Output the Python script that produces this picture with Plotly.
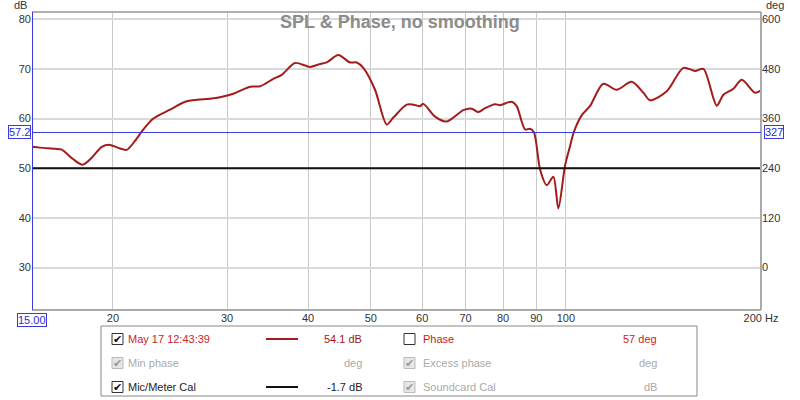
import plotly.graph_objects as go

# ---- data ----
freq_hz = [15.0, 15.43, 16.28, 16.67, 17.37, 17.96, 18.55, 19.22, 19.79, 20.38, 21.0, 21.63,
           22.28, 23.08, 24.49, 25.99, 28.24, 29.26, 30.68, 32.55, 33.73, 35.36, 36.43, 38.19,
           40.29, 41.74, 42.74, 44.54, 46.43, 47.55, 48.68, 50.75, 52.9, 54.16, 56.8, 58.15,
           59.55, 60.25, 62.81, 65.47, 69.45, 71.55, 73.25, 75.01, 77.73, 79.12, 82.48, 83.96,
           86.48, 88.03, 89.29, 91.21, 93.41, 95.63, 97.34, 99.68, 101.5, 102.8, 105.8, 108.9,
           114.2, 119.8, 126.3, 131.7, 134.8, 143.1, 151.8, 158.2, 163.0, 170.9, 175.0, 181.3,
           186.8, 195.8, 200.0]
spl_db = [54.35, 54.15, 53.9, 53.75, 51.8, 50.7, 52.1, 54.3, 54.7, 54.1, 53.7, 55.5,
          57.8, 60.0, 61.8, 63.5, 64.0, 64.3, 65.0, 66.4, 66.5, 68.0, 68.8, 71.2,
          70.4, 71.0, 71.3, 72.8, 71.3, 71.3, 70.2, 65.8, 58.8, 60.2, 62.8, 62.8,
          62.5, 62.96, 60.4, 59.4, 61.7, 62.0, 61.3, 62.1, 62.9, 62.7, 63.4, 62.5,
          57.8, 57.95, 57.2, 49.8, 46.6, 48.3, 41.9, 50.5, 54.5, 57.2, 60.7, 62.5,
          67.0, 65.8, 67.4, 65.2, 63.7, 65.5, 70.2, 69.6, 70.0, 62.6, 64.8, 66.0,
          67.8, 65.2, 65.7]
cal_freq_hz = [15.0, 200.0]
cal_db = [50.0, 50.0]
cursor_freq = 15.0
cursor_db = 57.2
cursor_deg = 327
x_ticks = [15, 20, 30, 40, 50, 60, 70, 80, 90, 100, 200]
x_ticktext = ["", "20", "30", "40", "50", "60", "70", "80", "90", "100", "200 Hz"]
db_ticks = [30, 40, 50, 60, 70, 80]
deg_ticks = [0, 120, 240, 360, 480, 600]
db_range = [21.45, 81.46]

W, H = 800, 400
L, R, T, B = 32, 761, 12, 310


def px(x):
    return (x - L) / (R - L)


def py(y):
    return (B - y) / (B - T)


FONT = "Liberation Sans"
CURVE = "#a31b1b"

fig = go.Figure()
fig.add_trace(go.Scatter(x=freq_hz, y=spl_db, mode="lines",
                         line=dict(color=CURVE, width=2, shape="spline", smoothing=0.8),
                         hoverinfo="skip", showlegend=False))
fig.add_trace(go.Scatter(x=cal_freq_hz, y=cal_db, mode="lines",
                         line=dict(color="#111111", width=2), showlegend=False))
# invisible trace on secondary axis
fig.add_trace(go.Scatter(x=[15], y=[0], yaxis="y2", mode="markers",
                         marker=dict(opacity=0), showlegend=False, hoverinfo="skip"))

deg_range = [12 * db_range[0] - 360, 12 * db_range[1] - 360]

fig.update_layout(
    width=W, height=H,
    margin=dict(l=L, r=W - R, t=T, b=H - B),
    paper_bgcolor="white", plot_bgcolor="white",
    font=dict(family=FONT, size=11, color="#333333"),
    xaxis=dict(type="log", range=[1.17609, 2.30103], tickvals=x_ticks, ticktext=x_ticktext,
               showgrid=True, gridcolor="#c8c8c8", gridwidth=1, zeroline=False,
               ticks="", tickfont=dict(size=11, color="#333333"), showline=False),
    yaxis=dict(range=db_range, tickvals=db_ticks, showgrid=True, gridcolor="#d9d9d9",
               gridwidth=2, zeroline=False, ticks="", tickfont=dict(size=11, color="#333333"),
               showline=False),
    yaxis2=dict(range=deg_range, tickvals=deg_ticks, overlaying="y", side="right",
                showgrid=False, zeroline=False, ticks="", tickfont=dict(size=11, color="#333333"),
                showline=False),
)

shapes = []
# plot frame
shapes.append(dict(type="line", xref="paper", yref="paper", x0=0, x1=1, y0=1, y1=1,
                   line=dict(color="#b0b0b0", width=2)))
shapes.append(dict(type="line", xref="paper", yref="paper", x0=1, x1=1, y0=0, y1=1,
                   line=dict(color="#aaaaaa", width=2)))
shapes.append(dict(type="line", xref="paper", yref="paper", x0=0, x1=1, y0=0, y1=0,
                   line=dict(color="#aaaaaa", width=2)))
# cursors
shapes.append(dict(type="line", xref="paper", yref="y", x0=0, x1=1, y0=cursor_db, y1=cursor_db,
                   line=dict(color="#3a3ae0", width=1)))
shapes.append(dict(type="line", xref="x", yref="paper", x0=cursor_freq, x1=cursor_freq, y0=0, y1=1,
                   line=dict(color="#3a3ae0", width=2)))

annotations = []


def text(x, y, s, color="#333333", size=11, anchor="left", bold=False):
    annotations.append(dict(xref="paper", yref="paper", x=px(x), y=py(y), text=s,
                            showarrow=False, xanchor=anchor, yanchor="middle",
                            font=dict(family=FONT, size=size, color=color)))


def boxlabel(x, y, s, anchor):
    annotations.append(dict(xref="paper", yref="paper", x=px(x), y=py(y), text=s,
                            showarrow=False, xanchor=anchor, yanchor="middle",
                            font=dict(family=FONT, size=11, color="#2b2bd6"),
                            bgcolor="white", bordercolor="#3a3ae0", borderwidth=1, borderpad=0))


# title & axis unit labels
text(400, 22, "<b>SPL &amp; Phase, no smoothing</b>", color="#8c8c8c", size=18, anchor="center")
text(20, 5, "dB", size=11, anchor="center")
text(775, 5, "deg", size=11, anchor="center")

# cursor boxes
boxlabel(31, 132, "57.2", "right")
boxlabel(764, 132, str(cursor_deg), "left")
boxlabel(32, 320, "15.00", "center")

# legend box
shapes.append(dict(type="rect", xref="paper", yref="paper", x0=px(101), x1=px(697),
                   y0=py(396), y1=py(326), line=dict(color="#888888", width=1),
                   fillcolor="white", layer="above"))


def checkbox(x, y, checked=True, grey=False):
    border = "#bbbbbb" if grey else "#333333"
    fill = "#e6e6e6" if grey else "white"
    shapes.append(dict(type="rect", xref="paper", yref="paper", x0=px(x), x1=px(x + 11),
                       y0=py(y + 5.5), y1=py(y - 5.5), line=dict(color=border, width=1),
                       fillcolor=fill, layer="above"))
    if checked:
        annotations.append(dict(xref="paper", yref="paper", x=px(x + 5.5), y=py(y), text="✔",
                                showarrow=False, xanchor="center", yanchor="middle",
                                font=dict(family="DejaVu Sans", size=11,
                                          color="#999999" if grey else "#111111")))


rows = [339, 363, 387]
RED = "#c62828"
checkbox(112, rows[0]); text(126, rows[0], "May 17 12:43:39", color=RED)
shapes.append(dict(type="line", xref="paper", yref="paper", x0=px(266), x1=px(298),
                   y0=py(rows[0]), y1=py(rows[0]), line=dict(color=CURVE, width=2), layer="above"))
text(364, rows[0], "54.1 dB", color="#a01818", anchor="right")

checkbox(112, rows[1], grey=True); text(126, rows[1], "Min phase", color="#aaaaaa")
text(364, rows[1], "deg", color="#aaaaaa", anchor="right")

checkbox(112, rows[2]); text(126, rows[2], "Mic/Meter Cal", color="#222222")
shapes.append(dict(type="line", xref="paper", yref="paper", x0=px(266), x1=px(298),
                   y0=py(rows[2]), y1=py(rows[2]), line=dict(color="#111111", width=2), layer="above"))
text(364, rows[2], "-1.7 dB", color="#222222", anchor="right")

checkbox(404, rows[0], checked=False); text(421, rows[0], "Phase", color="#d01818")
text(659, rows[0], "57 deg", color="#d01818", anchor="right")
checkbox(404, rows[1], grey=True); text(421, rows[1], "Excess phase", color="#aaaaaa")
text(659, rows[1], "deg", color="#aaaaaa", anchor="right")
checkbox(404, rows[2], grey=True); text(421, rows[2], "Soundcard Cal", color="#aaaaaa")
text(659, rows[2], "dB", color="#aaaaaa", anchor="right")

fig.update_layout(shapes=shapes, annotations=annotations)
fig.write_html("out.html", config={"displayModeBar": False},
               post_script="document.body.style.margin='0px';document.body.style.overflow='hidden';")
